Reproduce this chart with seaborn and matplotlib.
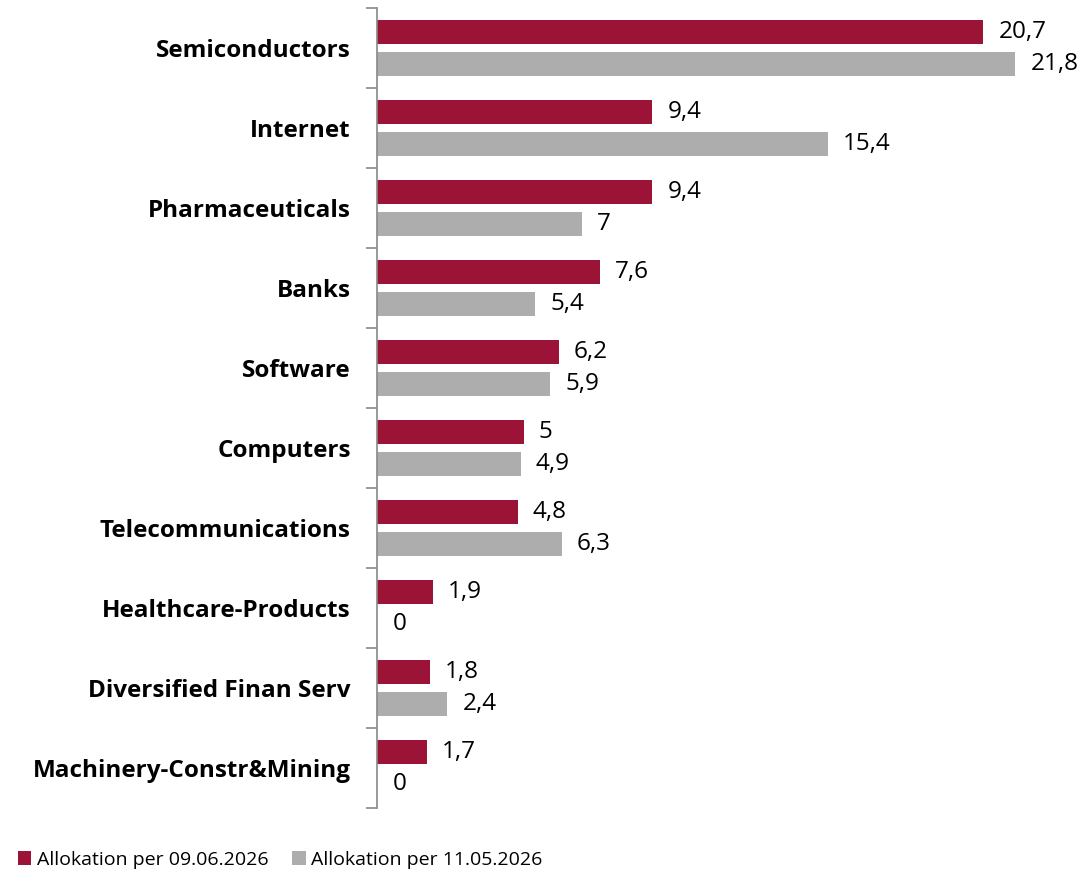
import numpy as np
import pandas as pd
import seaborn as sns
import matplotlib.pyplot as plt
from matplotlib.patches import Patch
from matplotlib.ticker import FixedLocator

categories = ["Semiconductors", "Internet", "Pharmaceuticals", "Banks", "Software",
              "Computers", "Telecommunications", "Healthcare-Products",
              "Diversified Finan Serv", "Machinery-Constr&Mining"]
alloc_jun = [20.7, 9.4, 9.4, 7.6, 6.2, 5.0, 4.8, 1.9, 1.8, 1.7]
alloc_may = [21.8, 15.4, 7.0, 5.4, 5.9, 4.9, 6.3, 0.0, 2.4, 0.0]
series = ["Allokation per 09.06.2026", "Allokation per 11.05.2026"]
colors = ["#9B1336", "#ADADAD"]

df = pd.DataFrame({
    "category": categories * 2,
    "value": alloc_jun + alloc_may,
    "series": [series[0]] * len(categories) + [series[1]] * len(categories),
})

sns.set_style("white")
plt.rcParams['font.family'] = ['Open Sans', 'DejaVu Sans']
plt.rcParams['text.color'] = 'black'
plt.rcParams['ytick.color'] = 'black'

fig = plt.figure(figsize=(10.84, 8.69), dpi=100)
ax = fig.add_axes([0.348, 0.0702, 0.652, 0.9206])

sns.barplot(data=df, y="category", x="value", hue="series", order=categories,
            hue_order=series, palette=colors, saturation=1, orient="h", width=0.8,
            gap=0.28, linewidth=0, legend=False, ax=ax)

def fmt(v):
    return f"{v:g}".replace(".", ",")

for cont, vals in zip(ax.containers, [alloc_jun, alloc_may]):
    texts = ax.bar_label(cont, labels=[fmt(v) for v in vals], padding=11,
                         fontsize=17.5, color="black")
    for t in texts:
        t.set_y(t.get_position()[1] + 0.04)

ax.set_xlim(0, 24.15)
ax.set_ylim(len(categories) - 0.5, -0.5)
ax.set_xlabel("")
ax.set_ylabel("")
ax.set_xticks([])

ax.tick_params(axis="y", which="major", left=False, length=0, pad=19, labelsize=17.5,
               labelcolor="black")
for lbl in ax.get_yticklabels():
    lbl.set_fontweight("bold")
ax.yaxis.set_minor_locator(FixedLocator(np.arange(-0.5, len(categories), 1.0)))
ax.tick_params(axis="y", which="minor", left=True, length=8, width=1.2,
               color="#888888", direction="out")

for s in ["top", "right", "bottom"]:
    ax.spines[s].set_visible(False)
ax.spines["left"].set_color("#888888")
ax.spines["left"].set_linewidth(1.2)

handles = [Patch(facecolor=c, edgecolor="none") for c in colors]
fig.legend(handles, series, loc="lower left", bbox_to_anchor=(0.0, -0.02), ncol=2,
           frameon=False, fontsize=14, handlelength=0.7, handleheight=0.7,
           handletextpad=0.3, columnspacing=1.2)

fig.savefig("out.png", dpi=100)
